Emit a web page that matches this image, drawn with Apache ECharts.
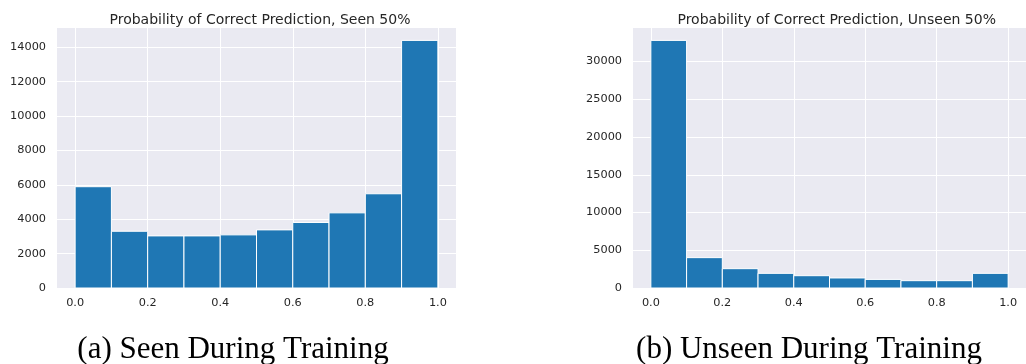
<!DOCTYPE html>
<html>
<head>
<meta charset="utf-8">
<script src="https://cdn.jsdelivr.net/npm/echarts@6/dist/echarts.min.js"></script>
<style>
html,body{margin:0;padding:0;background:#fff;}
#c{width:1026px;height:364px;}
</style>
</head>
<body>
<div id="c"></div>
<script>
const binEdges = [0.0, 0.1, 0.2, 0.3, 0.4, 0.5, 0.6, 0.7, 0.8, 0.9, 1.0];
const seenCounts = [5890, 3300, 3030, 3030, 3090, 3380, 3810, 4370, 5480, 14400];
const unseenCounts = [32800, 4020, 2560, 1940, 1630, 1330, 1140, 970, 970, 1940];
const xTicks = [0.0, 0.2, 0.4, 0.6, 0.8, 1.0];
const seenYTicks = [0, 2000, 4000, 6000, 8000, 10000, 12000, 14000];
const unseenYTicks = [0, 5000, 10000, 15000, 20000, 25000, 30000];
const titles = ['Probability of Correct Prediction, Seen 50%', 'Probability of Correct Prediction, Unseen 50%'];
const captions = ['(a) Seen During Training', '(b) Unseen During Training'];

function histData(counts) {
  return counts.map((c, i) => [binEdges[i], binEdges[i + 1], c]);
}

const textColor = '#262626';
const labelFont = { fontFamily: 'DejaVu Sans', fontSize: 11.3, color: textColor };

function xAxisDef(gi) {
  return {
    type: 'value', gridIndex: gi, min: -0.05, max: 1.05,
    axisLine: { show: false },
    axisTick: { show: false, customValues: xTicks },
    axisLabel: Object.assign({ customValues: xTicks, margin: 10, formatter: v => v.toFixed(1) }, labelFont),
    splitLine: { show: true, lineStyle: { color: '#ffffff', width: 1 } }
  };
}
function yAxisDef(gi, ticks, max) {
  return {
    type: 'value', gridIndex: gi, min: 0, max: max,
    axisLine: { show: false },
    axisTick: { show: false, customValues: ticks },
    axisLabel: Object.assign({ customValues: ticks, margin: 11, formatter: v => String(v) }, labelFont),
    splitLine: { show: true, lineStyle: { color: '#ffffff', width: 1 } }
  };
}
function renderBar(params, api) {
  const p0 = api.coord([api.value(0), api.value(2)]);
  const p1 = api.coord([api.value(1), 0]);
  return {
    type: 'rect',
    shape: { x: p0[0], y: p0[1], width: p1[0] - p0[0], height: p1[1] - p0[1] },
    style: { fill: '#1f77b4', stroke: '#ffffff', lineWidth: 1 }
  };
}

const titleStyle = { fontFamily: 'DejaVu Sans', fontSize: 14, fontWeight: 'normal', color: textColor };
const captionStyle = { fontFamily: 'Liberation Serif', fontSize: 31, fontWeight: 'normal', color: '#000' };

const chart = echarts.init(document.getElementById('c'), null, { renderer: 'canvas' });
chart.setOption({
  animation: false,
  backgroundColor: '#ffffff',
  title: [
    { text: titles[0], left: 255, top: 8, textAlign: 'center', textStyle: titleStyle },
    { text: titles[1], left: 831.7, top: 8, textAlign: 'center', textStyle: titleStyle },
    { text: captions[0], left: 228, top: 329, textAlign: 'center', textStyle: captionStyle },
    { text: captions[1], left: 804, top: 329, textAlign: 'center', textStyle: captionStyle }
  ],
  grid: [
    { left: 57, top: 28, width: 399, height: 260, show: true, backgroundColor: '#EAEAF2', borderWidth: 0 },
    { left: 633, top: 28, width: 398, height: 260, show: true, backgroundColor: '#EAEAF2', borderWidth: 0 }
  ],
  xAxis: [xAxisDef(0), xAxisDef(1)],
  yAxis: [yAxisDef(0, seenYTicks, 15120), yAxisDef(1, unseenYTicks, 34440)],
  series: [
    { type: 'custom', xAxisIndex: 0, yAxisIndex: 0, renderItem: renderBar, data: histData(seenCounts), encode: { x: [0, 1], y: 2 } },
    { type: 'custom', xAxisIndex: 1, yAxisIndex: 1, renderItem: renderBar, data: histData(unseenCounts), encode: { x: [0, 1], y: 2 } }
  ]
});
</script>
</body>
</html>
